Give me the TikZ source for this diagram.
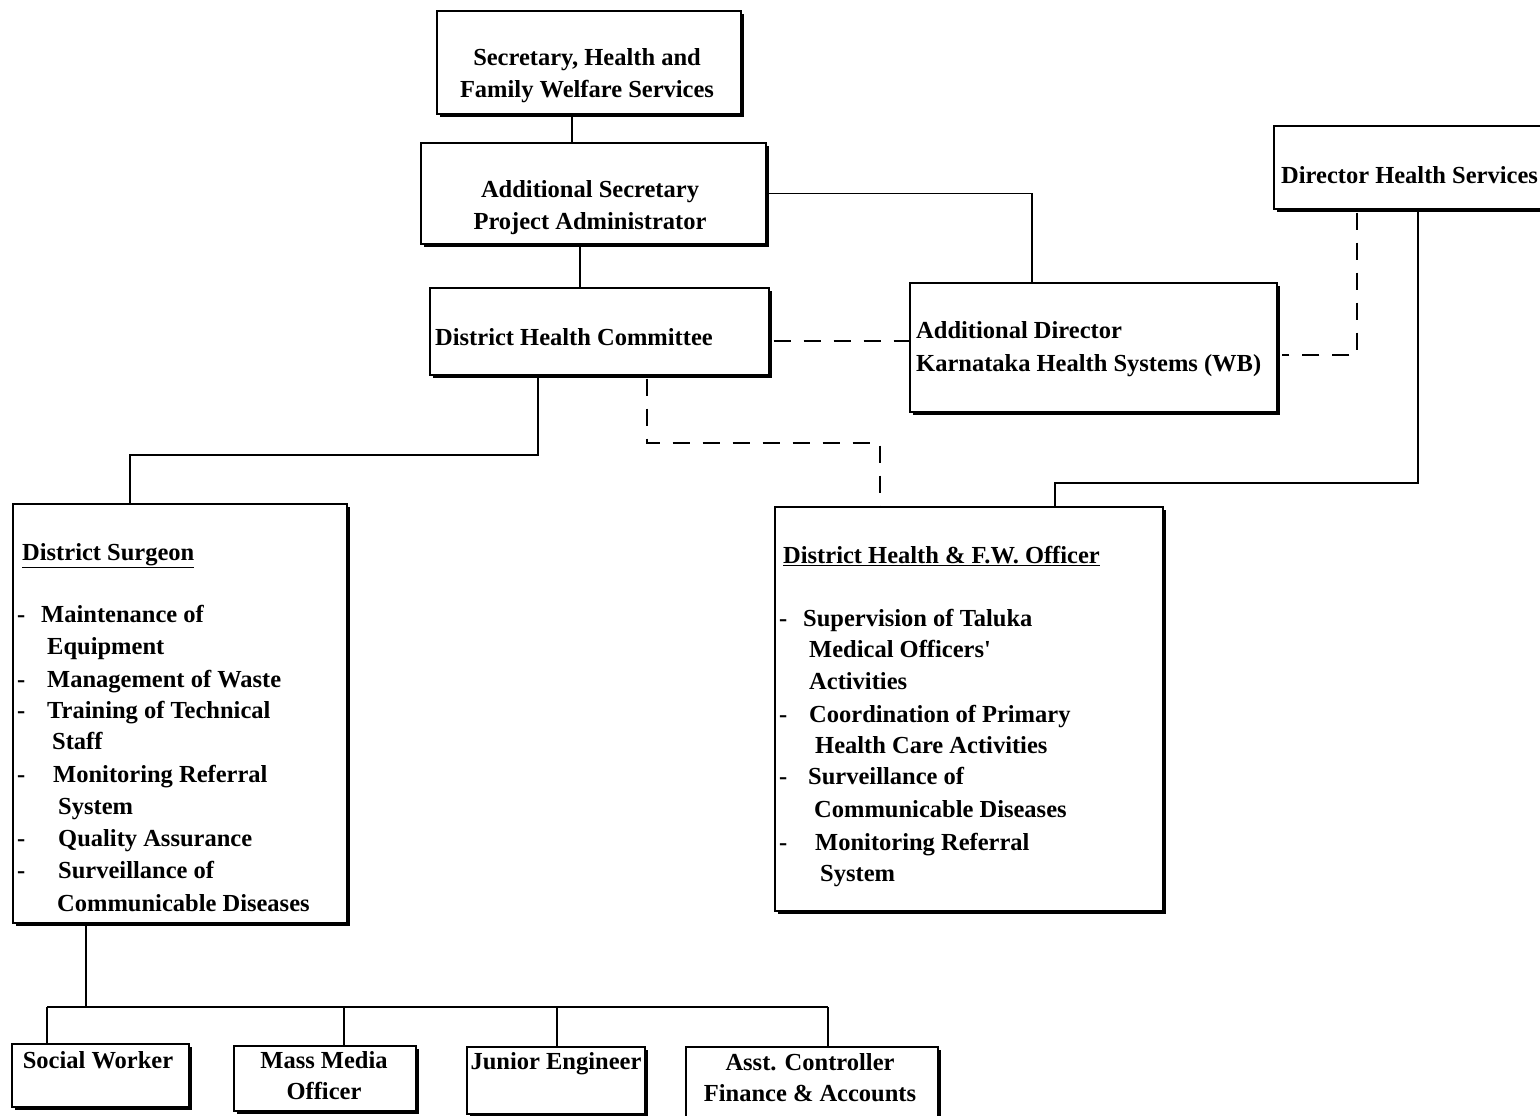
\documentclass[tikz,border=0pt]{standalone}
\usepackage{fontspec}
\setmainfont{Liberation Serif}
\usetikzlibrary{shadows}
\begin{document}
\begin{tikzpicture}[x=1pt,y=-1pt,
  box/.style={draw, line width=1.6pt, fill=white, inner sep=0pt,
    anchor=north west,
    drop shadow={shadow xshift=3pt, shadow yshift=-3pt, fill=black, opacity=1}},
  txt/.style={inner sep=0pt, font=\fontsize{24.5}{32}\selectfont\bfseries},
  conn/.style={line width=1.6pt},
  dconn/.style={line width=1.6pt, dash pattern=on 17pt off 13pt}]
\useasboundingbox[fill=white] (0,0) rectangle (1540,1116);

% boxes
\node[box, minimum width=304pt, minimum height=103pt] (sec)   at (436,10)  {};
\node[box, minimum width=345pt, minimum height=101pt] (adds)  at (420,142) {};
\node[box, minimum width=339pt, minimum height=87pt]  (dhc)   at (429,287) {};
\node[box, minimum width=367pt, minimum height=129pt] (addir) at (909,282) {};
\node[box, minimum width=290pt, minimum height=83pt]  (dir)   at (1273,125) {};
\node[box, minimum width=334pt, minimum height=419pt] (ds)    at (12,503)  {};
\node[box, minimum width=388pt, minimum height=404pt] (dh)    at (774,506) {};
\node[box, minimum width=177pt, minimum height=63pt]  (sw)    at (11,1043) {};
\node[box, minimum width=182pt, minimum height=65pt]  (mm)    at (233,1045) {};
\node[box, minimum width=178pt, minimum height=67pt]  (je)    at (466,1046) {};
\node[box, minimum width=252pt, minimum height=80pt]  (ac)    at (685,1046) {};

% box texts
\node[txt, anchor=base] (sec1) at (587,66) {Secretary, Health and};
\node[txt, anchor=base] (sec2) at (587,98) {Family Welfare Services};
\node[txt, anchor=base] (adds1) at (590,197) {Additional Secretary};
\node[txt, anchor=base] (adds2) at (590,229) {Project Administrator};
\node[txt, anchor=base west] (dhc1) at (435,345) {District Health Committee};
\node[txt, anchor=base west] (addir1) at (916,338) {Additional Director};
\node[txt, anchor=base west] (addir2) at (916,371) {Karnataka Health Systems (WB)};
\node[txt, anchor=base west] (dir1) at (1281,183) {Director Health Services};

\node[txt, anchor=base west] (dst) at (22,560) {\underline{District Surgeon}};
\foreach \y/\x/\t [count=\i] in {615/41/Maintenance of, 647/47/Equipment,
  680/47/Management of Waste, 711/47/Training of Technical, 742/52/Staff,
  775/53/Monitoring Referral, 807/58/System, 839/58/Quality Assurance,
  871/58/Surveillance of, 904/57/Communicable Diseases}
  \node[txt, anchor=base west] (dsl\i) at (\x,\y+7) {\t};
\foreach \y [count=\i] in {615,680,711,775,839,871}
  \node[txt, anchor=base west] (dsd\i) at (17,\y+7) {-};

\node[txt, anchor=base west] (dht) at (783,563) {\underline{District Health \& F.W. Officer}};
\foreach \y/\x/\t [count=\i] in {619/803/Supervision of Taluka,
  650/809/Medical Officers\textquotesingle,
  682/809/Activities, 715/809/Coordination of Primary, 746/815/Health Care Activities,
  777/808/Surveillance of, 810/814/Communicable Diseases, 843/815/Monitoring Referral,
  874/820/System}
  \node[txt, anchor=base west] (dhl\i) at (\x,\y+7) {\t};
\foreach \y [count=\i] in {619,715,777,843}
  \node[txt, anchor=base west] (dhd\i) at (779,\y+7) {-};

\node[txt, anchor=base] (sw1) at (98,1068) {Social Worker};
\node[txt, anchor=base] (mm1) at (324,1068) {Mass Media};
\node[txt, anchor=base] (mm2) at (324,1099) {Officer};
\node[txt, anchor=base] (je1) at (556,1069) {Junior Engineer};
\node[txt, anchor=base] (ac1) at (810,1070) {Asst. Controller};
\node[txt, anchor=base] (ac2) at (810,1101) {Finance \& Accounts};

% turning points of the connectors
\coordinate (c572) at (572,0);
\coordinate (c580) at (580,0);
\coordinate (c1032) at (1032,0);
\coordinate (h341) at (0,341);
\coordinate (c538) at (538,0);
\coordinate (k1) at (538,455);
\coordinate (k2) at (130,455);
\coordinate (c647) at (647,0);
\coordinate (k3) at (647,443);
\coordinate (k4) at (880,443);
\coordinate (c1357) at (1357,0);
\coordinate (k5) at (1357,355);
\coordinate (c1418) at (1418,0);
\coordinate (k6) at (1418,483);
\coordinate (k7) at (1055,483);
\coordinate (c86) at (86,0);
\coordinate (k8) at (86,1007);
\coordinate (b1) at (47,1007);
\coordinate (b2) at (344,1007);
\coordinate (b3) at (557,1007);
\coordinate (b4) at (828,1007);

% solid lines of authority
\draw[conn] (c572 |- sec.south) -- (c572 |- adds.north);
\draw[conn] (adds.east) -- (c1032 |- adds.east) -- (c1032 |- addir.north);
\draw[conn] (c580 |- adds.south) -- (c580 |- dhc.north);
\draw[conn] (c538 |- dhc.south) -- (k1) -- (k2) -- (k2 |- ds.north);
\draw[conn] (c1418 |- dir.south) -- (k6) -- (k7) -- (k7 |- dh.north);
\draw[conn] (c86 |- ds.south) -- (k8);
\draw[conn] (b1) -- (b4);
\draw[conn] (b1) -- (b1 |- sw.north);
\draw[conn] (b2) -- (b2 |- mm.north);
\draw[conn] (b3) -- (b3 |- je.north);
\draw[conn] (b4) -- (b4 |- ac.north);

% dashed lines of coordination
\draw[dconn] (dhc.east |- h341) ++(4,0) -- (addir.west |- h341);
\draw[dconn] (c647 |- dhc.south) ++(0,3) -- (k3) -- (k4) -- (k4 |- dh.north);
\draw[dconn] (c1357 |- dir.south) ++(0,3) -- (k5) -- ([xshift=4pt]addir.east |- k5);
\end{tikzpicture}
\end{document}
